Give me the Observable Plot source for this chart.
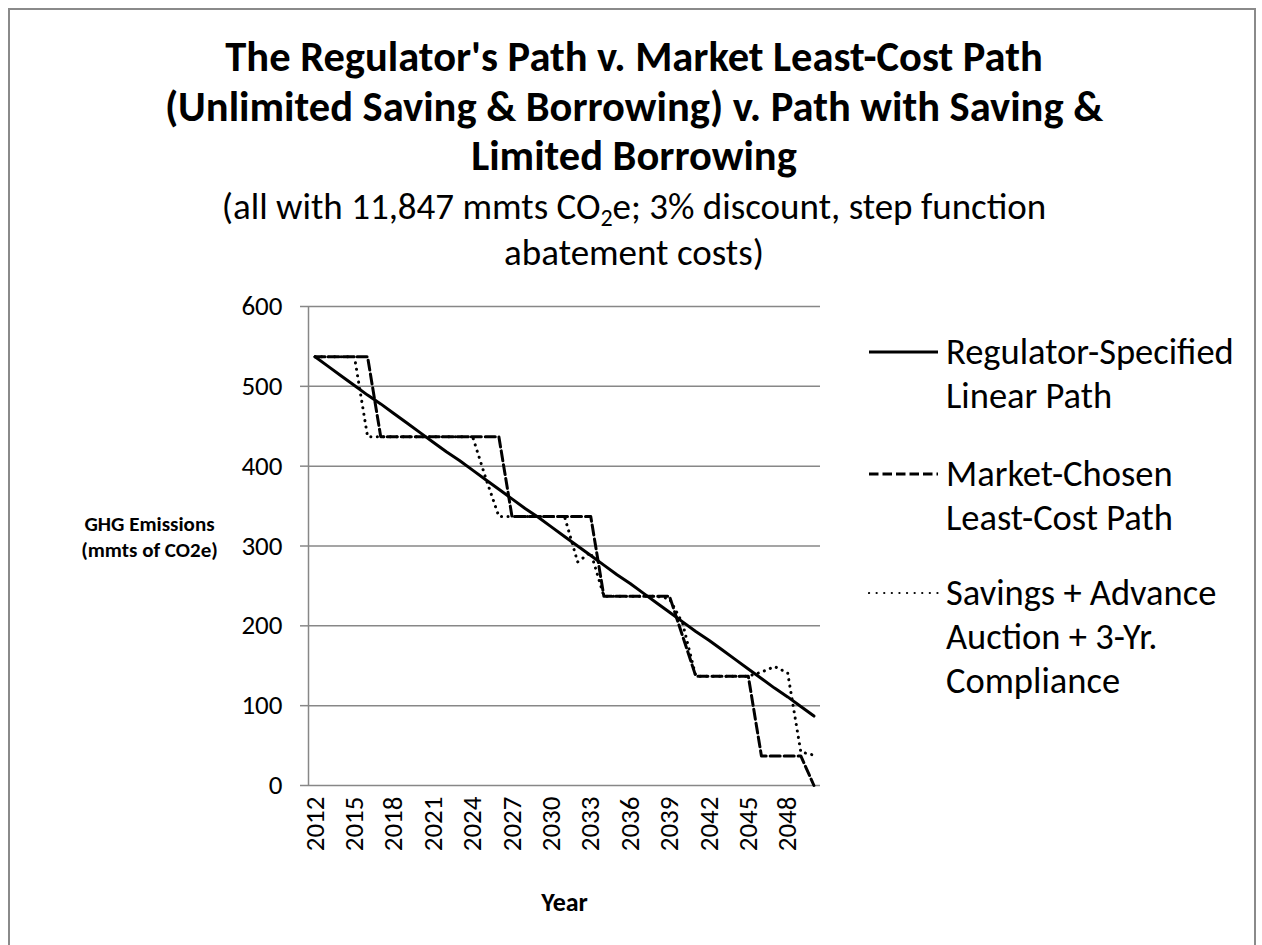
<!DOCTYPE html>
<html><head><meta charset="utf-8">
<script src="https://cdn.jsdelivr.net/npm/d3@7"></script>
<script src="https://cdn.jsdelivr.net/npm/@observablehq/plot@0.6"></script>
<style>
body{margin:0;background:#fff;font-family:Carlito,Lato,sans-serif;color:#000;width:1262px;height:945px;overflow:hidden;position:relative;}
#frame{position:absolute;left:8px;top:8px;width:1244px;height:980px;border:2px solid #8a8a8a;}
#title{position:absolute;left:8px;width:1252px;top:32px;text-align:center;font-weight:bold;font-size:42.5px;line-height:49.5px;white-space:nowrap;}
#sub{position:absolute;left:8px;width:1252px;top:184px;text-align:center;font-size:37px;line-height:46px;white-space:nowrap;}
#sub sub{font-size:0.65em;vertical-align:-0.3em;line-height:0;}
#chart{position:absolute;left:0;top:290px;}
.leg{position:absolute;left:946px;font-size:36.5px;line-height:44px;white-space:nowrap;}
.sw{position:absolute;left:868px;}
</style></head><body>
<div id="frame"></div>
<div id="title">The Regulator's Path v. Market Least-Cost Path<br>(Unlimited Saving &amp; Borrowing) v. Path with Saving &amp;<br>Limited Borrowing</div>
<div id="sub">(all with 11,847 mmts CO<sub>2</sub>e; 3% discount, step function<br>abatement costs)</div>
<div id="chart"></div>
<div id="legend"></div>
<script>
const years = [2012,2013,2014,2015,2016,2017,2018,2019,2020,2021,2022,2023,2024,2025,2026,2027,2028,2029,2030,2031,2032,2033,2034,2035,2036,2037,2038,2039,2040,2041,2042,2043,2044,2045,2046,2047,2048,2049,2050];
const regulator = [537,525,513,501,489,478,466,454,442,430,418,407,395,383,371,359,347,336,324,312,300,288,276,264,253,241,229,217,205,193,182,170,158,146,134,122,111,99,87];
const market = [537,537,537,537,537,437,437,437,437,437,437,437,437,437,437,337,337,337,337,337,337,337,237,237,237,237,237,237,187,137,137,137,137,137,37,37,37,37,0];
const savings = [537,537,537,537,437,437,437,437,437,437,437,437,437,385,337,337,337,337,337,337,280,292,237,237,237,237,237,234,203,137,137,137,137,137,142,149,141,42,38];
const xTicks = [2012,2015,2018,2021,2024,2027,2030,2033,2036,2039,2042,2045,2048];
const yTicks = [0,100,200,300,400,500,600];
const seriesNames = [["Regulator-Specified","Linear Path"],["Market-Chosen","Least-Cost Path"],["Savings + Advance","Auction + 3-Yr.","Compliance"]];

const font = "Carlito, Lato, sans-serif";
const grey = "#878787";
const styles = [
  {stroke:"#000", strokeWidth:3},
  {stroke:"#000", strokeWidth:3, strokeDasharray:"10,4"},
  {stroke:"#000", strokeWidth:3, strokeDasharray:"0.1,6.4", strokeLinecap:"round"}
];
const seriesValues = [regulator, market, savings];
const rows = seriesValues.map(vals => years.map((yr,i) => ({year:yr, value:vals[i]})));

const plot = Plot.plot({
  width:1262, height:655,
  marginLeft:308, marginRight:442, marginTop:16, marginBottom:160,
  style:{fontFamily:font, fontSize:"27px", color:"#000", background:"transparent", overflow:"visible"},
  x:{type:"linear", domain:[2011.5,2050.5]},
  y:{domain:[0,600]},
  marks:[
    Plot.gridY(yTicks,{stroke:grey, strokeOpacity:1, strokeWidth:1.5}),
    Plot.ruleX([2011.5],{stroke:grey, strokeWidth:1.5}),
    Plot.axisY(yTicks,{tickSize:8, tickPadding:18, stroke:grey, strokeWidth:1.5, fill:"#000", fontSize:27, label:null}),
    Plot.axisX(xTicks,{tickSize:0, tickPadding:11, tickRotate:-90, tickFormat:d=>String(d), fill:"#000", fontSize:27, label:null}),
    Plot.text(["Year"],{frameAnchor:"bottom", dy:117, fontWeight:"bold", fontSize:26, lineAnchor:"middle"}),
    Plot.text(["GHG Emissions\n(mmts of CO2e)"],{frameAnchor:"left", dx:-159, dy:-10, fontWeight:"bold", fontSize:21, lineHeight:1.2, textAnchor:"middle", lineAnchor:"middle"}),
    ...rows.map((r,k) => Plot.line(r,{x:"year", y:"value", ...styles[k]}))
  ]
});
document.getElementById("chart").appendChild(plot);

const legend = document.getElementById("legend");
const tops = [330, 452, 571];
seriesNames.forEach((lines,k) => {
  const d = document.createElement("div");
  d.className = "leg";
  d.style.top = tops[k] + "px";
  d.innerHTML = lines.join("<br>");
  legend.appendChild(d);
  const s = d3.create("svg").attr("class","sw").attr("width",72).attr("height",10)
    .style("top",(tops[k]+17)+"px");
  const st = styles[k];
  s.append("line").attr("x1",1).attr("x2",70).attr("y1",5).attr("y2",5)
    .attr("stroke","#000").attr("stroke-width",k===2?2.2:st.strokeWidth)
    .attr("stroke-dasharray",k===1?"9.5,4":(k===2?"0.1,7.5":null))
    .attr("stroke-linecap",k===2?"round":"butt");
  legend.appendChild(s.node());
});
</script>
</body></html>
